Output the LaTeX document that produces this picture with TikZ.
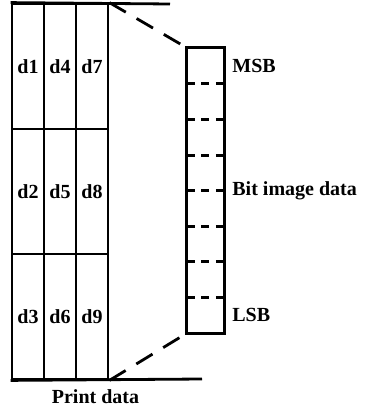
\documentclass[tikz,border=0pt]{standalone}
\usepackage{fontspec}
\setmainfont{Liberation Serif}
\usetikzlibrary{positioning}
\colorlet{grid edge}{black}
\tikzset{
  textfont/.style={font=\bfseries\fontsize{20}{22}\selectfont},
  cell/.style={draw=grid edge, line width=2.8pt, minimum width=32pt,
  minimum height=125pt, inner sep=0pt, textfont},
  bit/.style={minimum width=37pt, minimum height=35.625pt, inner sep=0pt}
  }
\tikzstyle{frame} = [draw, line width=2.8pt, -]
\tikzstyle{separator} = [draw, line width=3pt, dash pattern=on 8pt off 6.5pt]
\tikzstyle{link} = [draw, line width=2.8pt, dash pattern=on 19pt off 12.5pt]
\tikzstyle{caption}=[inner sep=0pt, textfont]

\begin{document}
\begin{tikzpicture}[x=1pt,y=-1pt]
    \useasboundingbox (0,0) rectangle (364,414);

    % Print data: 3 x 3 cells
    \foreach \col/\x in {0/28, 1/60, 2/92} {
      \foreach \row/\y in {1/66.5, 2/191.5, 3/316.5} {
        \pgfmathtruncatemacro{\n}{3*\col+\row}
        \node[cell] (d\n) at (\x,\y) {d\n};
      }
    }

    % Bit image data: 8 bits
    \foreach \i in {1,...,8} {
      \node[bit] (b\i) at (205.5, 30.19+35.625*\i) {};
    }
    \path[frame] (b1.north west) rectangle (b8.south east);
    \foreach \i in {1,...,7} {
      \path[separator] (b\i.south west) -- (b\i.south east);
    }

    \coordinate (top end) at (170,4);
    \coordinate (bottom end) at (202,379);
    \path[frame] (d1.north west) -- (top end);
    \path[frame] (d3.south west) -- (bottom end);

    \path[link] (d7.north east) -- (b1.north west);
    \path[link] (d9.south east) -- (b8.south west);

    \node[caption, right=8pt of b1] (msb) {MSB};
    \node[caption, right=8pt of b4.south east] (bits) {Bit image data};
    \node[caption, right=8pt of b8] (lsb) {LSB};
    \node[caption] (print) at (95.5,397) {Print data};
\end{tikzpicture}
\end{document}
